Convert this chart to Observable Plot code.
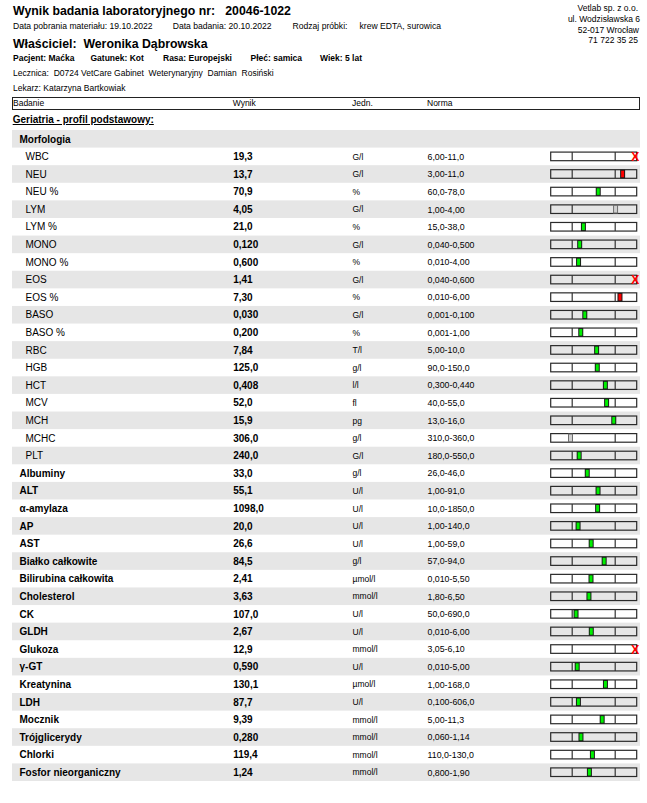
<!DOCTYPE html>
<html lang="pl">
<head>
<meta charset="utf-8">
<script src="https://cdn.jsdelivr.net/npm/d3@7"></script>
<script src="https://cdn.jsdelivr.net/npm/@observablehq/plot@0.6"></script>
<style>
  html, body { margin: 0; padding: 0; background: #fff; }
  body { font-family: "Liberation Sans", Arial, sans-serif; color: #000; }
  #page { position: relative; width: 647px; height: 803px; overflow: hidden; }
  .t { position: absolute; white-space: pre; line-height: 1; }
  .b { font-weight: bold; }
  #hdrbox { position: absolute; left: 12px; top: 97px; width: 626px; height: 11px; border: 1.2px solid #222; }
  #chart { position: absolute; left: 0; top: 130px; line-height: 0; }
</style>
</head>
<body>
<div id="page">
  <div class="t b" style="left:13px;top:4.9px;font-size:12.3px">Wynik badania laboratoryjnego nr:   20046-1022</div>
  <div class="t" style="left:13px;top:21.8px;font-size:8.6px">Data pobrania materiału: 19.10.2022</div>
  <div class="t" style="left:172.7px;top:21.8px;font-size:8.6px">Data badania: 20.10.2022</div>
  <div class="t" style="left:292.5px;top:21.8px;font-size:8.6px">Rodzaj próbki:</div>
  <div class="t" style="left:359.5px;top:21.8px;font-size:8.6px">krew EDTA, surowica</div>
  <div class="t b" style="left:13px;top:37.5px;font-size:12.3px">Właściciel:  Weronika Dąbrowska</div>
  <div class="t b" style="left:13px;top:54.3px;font-size:8.5px">Pacjent: Maćka</div>
  <div class="t b" style="left:90.5px;top:54.3px;font-size:8.5px">Gatunek: Kot</div>
  <div class="t b" style="left:163px;top:54.3px;font-size:8.5px">Rasa: Europejski</div>
  <div class="t b" style="left:250.5px;top:54.3px;font-size:8.5px">Płeć: samica</div>
  <div class="t b" style="left:320px;top:54.3px;font-size:8.5px">Wiek: 5 lat</div>
  <div class="t" style="left:13px;top:68.8px;font-size:8.5px">Lecznica:  D0724 VetCare Gabinet  Weterynaryjny  Damian  Rosiński</div>
  <div class="t" style="left:13px;top:83.8px;font-size:8.5px">Lekarz: Katarzyna Bartkowiak</div>

  <div class="t" style="right:9px;top:3.8px;font-size:8.5px;text-align:right">Vetlab sp. z o.o.</div>
  <div class="t" style="right:7px;top:14.8px;font-size:8.5px;text-align:right">ul. Wodzisławska 6</div>
  <div class="t" style="right:8px;top:25.8px;font-size:8.5px;text-align:right">52-017 Wrocław</div>
  <div class="t" style="right:9px;top:35.8px;font-size:8.5px;text-align:right">71 722 35 25</div>

  <div id="hdrbox"></div>
  <div class="t" style="left:13px;top:99.3px;font-size:8.5px">Badanie</div>
  <div class="t" style="left:232.7px;top:99.3px;font-size:8.5px">Wynik</div>
  <div class="t" style="left:352px;top:99.3px;font-size:8.5px">Jedn.</div>
  <div class="t" style="left:427px;top:99.3px;font-size:8.5px">Norma</div>

  <div class="t b" style="left:12.7px;top:114.6px;font-size:10px;text-decoration:underline">Geriatria - profil podstawowy:</div>

  <div id="chart"></div>
</div>
<script>
// ---- data ----
const groupLabel = "Morfologia";
const groupSize = 18; // first 18 tests belong to the Morfologia group
const tests = ["WBC","NEU","NEU %","LYM","LYM %","MONO","MONO %","EOS","EOS %","BASO","BASO %",
  "RBC","HGB","HCT","MCV","MCH","MCHC","PLT",
  "Albuminy","ALT","α-amylaza","AP","AST","Białko całkowite","Bilirubina całkowita","Cholesterol",
  "CK","GLDH","Glukoza","γ-GT","Kreatynina","LDH","Mocznik","Trójglicerydy","Chlorki","Fosfor nieorganiczny"];
const results = [19.3,13.7,70.9,4.05,21.0,0.120,0.600,1.41,7.30,0.030,0.200,
  7.84,125.0,0.408,52.0,15.9,306.0,240.0,
  33.0,55.1,1098.0,20.0,26.6,84.5,2.41,3.63,
  107.0,2.67,12.9,0.590,130.1,87.7,9.39,0.280,119.4,1.24];
const units = ["G/l","G/l","%","G/l","%","G/l","%","G/l","%","G/l","%",
  "T/l","g/l","l/l","fl","pg","g/l","G/l",
  "g/l","U/l","U/l","U/l","U/l","g/l","µmol/l","mmol/l",
  "U/l","U/l","mmol/l","U/l","µmol/l","U/l","mmol/l","mmol/l","mmol/l","mmol/l"];
const normLow = [6.00,3.00,60.0,1.00,15.0,0.040,0.010,0.040,0.010,0.001,0.001,
  5.00,90.0,0.300,40.0,13.0,310.0,180.0,
  26.0,1.00,10.0,1.00,1.00,57.0,0.010,1.80,
  50.0,0.010,3.05,0.010,1.00,0.100,5.00,0.060,110.0,0.800];
const normHigh = [11.0,11.0,78.0,4.00,38.0,0.500,4.00,0.600,6.00,0.100,1.00,
  10.0,150.0,0.440,55.0,16.0,360.0,550.0,
  46.0,91.0,1850.0,140.0,59.0,94.0,5.50,6.50,
  690.0,6.00,6.10,5.00,168.0,606.0,11.3,1.14,130.0,1.90];

// ---- helpers ----
function fmt(v) {
  const d = v >= 10 ? 1 : v >= 1 ? 2 : 3;
  return v.toFixed(d).replace(".", ",");
}

const rows = [{i: 0, name: groupLabel, header: true}];
tests.forEach((name, k) => {
  const low = normLow[k], high = normHigh[k], v = results[k];
  const t = (v - low) / (high - low);
  const dev = t < 0 ? -t : t > 1 ? t - 1 : 0;
  const status = t > 2 ? "over" : dev === 0 ? "ok" : dev <= 0.1 ? "border" : "high";
  rows.push({
    i: k + 1, name, sub: k < groupSize,
    result: fmt(v), unit: units[k], norm: fmt(low) + "-" + fmt(high),
    t, status
  });
});
const items = rows.filter(r => !r.header);
const boldRows = rows.filter(r => !r.sub);
const subRows = rows.filter(r => r.sub);
const inRange = items.filter(r => r.status !== "over");
const overRows = items.filter(r => r.status === "over");

const rowH = 17.59;
const ins = 4.5;
const fillOf = s => s === "ok" ? "#00f000" : s === "border" ? "#d0d0d0" : "#ff0000";
const edgeOf = s => s === "border" ? "#6e6e6e" : "#1a1a1a";

const chart = Plot.plot({
  width: 647,
  height: Math.round(rows.length * rowH),
  marginTop: 0, marginBottom: 0, marginLeft: 12, marginRight: 7,
  style: {fontFamily: "Liberation Sans, Arial, sans-serif", fontSize: "10px", color: "#000", background: "transparent", overflow: "visible"},
  x: {type: "linear", domain: [-1, 0, 1, 2], range: [550.7, 571.7, 614.7, 636.7], axis: null},
  y: {type: "band", domain: rows.map(r => r.i), padding: 0, round: false, axis: null},
  marks: [
    Plot.cell(rows.filter(r => r.i % 2 === 0), {y: "i", fill: "#e6e6e6"}),
    Plot.text(boldRows, {y: "i", text: "name", frameAnchor: "left", dx: 7, textAnchor: "start", fontWeight: "bold", fontSize: 10}),
    Plot.text(subRows, {y: "i", text: "name", frameAnchor: "left", dx: 13, textAnchor: "start", fontSize: 10}),
    Plot.text(items, {y: "i", text: "result", frameAnchor: "left", dx: 220.7, textAnchor: "start", fontWeight: "bold", fontSize: 10}),
    Plot.text(items, {y: "i", text: "unit", frameAnchor: "left", dx: 340, textAnchor: "start", fontSize: 8.5}),
    Plot.text(items, {y: "i", text: "norm", frameAnchor: "left", dx: 415, textAnchor: "start", fontSize: 8.8}),
    Plot.barX(items, {x1: () => -1, x2: () => 2, y: "i", fill: "none", stroke: "#2a2a2a", strokeWidth: 1.2, insetTop: ins, insetBottom: ins}),
    Plot.tickX(items, {x: () => 0, y: "i", stroke: "#333", strokeWidth: 1.2, insetTop: ins, insetBottom: ins}),
    Plot.tickX(items, {x: () => 1, y: "i", stroke: "#333", strokeWidth: 1.2, insetTop: ins, insetBottom: ins}),
    Plot.tickX(inRange, {x: "t", y: "i", stroke: d => edgeOf(d.status), strokeWidth: 5, insetTop: ins, insetBottom: ins}),
    Plot.tickX(inRange, {x: "t", y: "i", stroke: d => fillOf(d.status), strokeWidth: 3, insetTop: ins + 1, insetBottom: ins + 1}),
    Plot.text(overRows, {x: () => 2, y: "i", text: () => "X", dx: -2, fill: "#ff0000", fontWeight: "bold", fontSize: 12.5})
  ]
});
document.getElementById("chart").appendChild(chart);
</script>
</body>
</html>
